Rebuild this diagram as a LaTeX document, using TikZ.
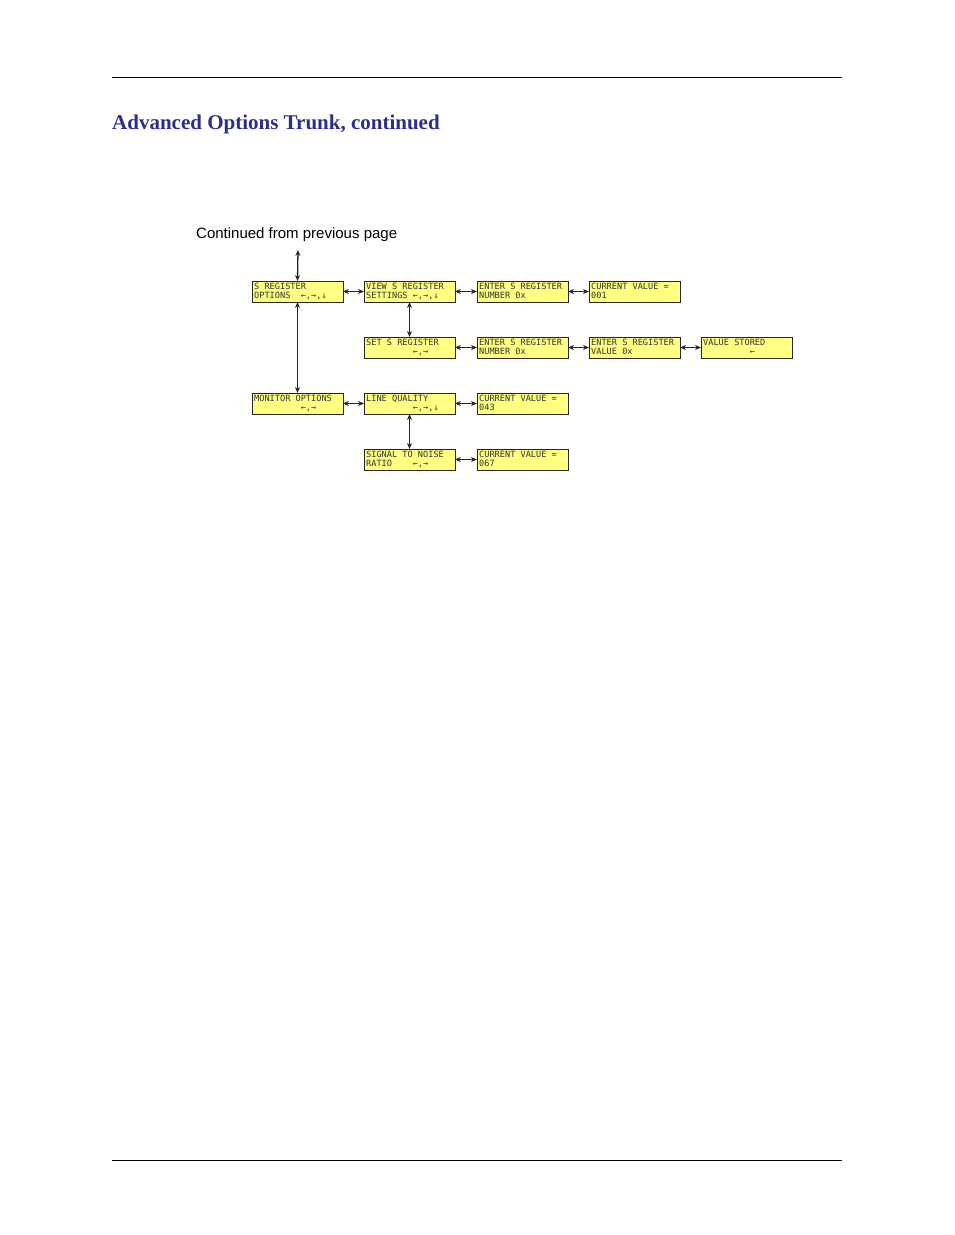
\documentclass[tikz,border=0pt]{standalone}
\usepackage{fontspec}
\setmainfont{Liberation Serif}
\setsansfont{Liberation Sans}
\setmonofont{DejaVu Sans Mono}
\usetikzlibrary{arrows.meta}
\definecolor{lcd}{HTML}{FFFF80}
\definecolor{ttl}{HTML}{2B2E8C}
\tikzset{
  lcdbox/.style={draw=black!85, fill=lcd, line width=0.9pt, minimum width=91pt, minimum height=21pt, inner sep=0pt, outer sep=0pt},
  lcdtxt/.style={anchor=north west, inner sep=0pt, align=left, font=\ttfamily\fontsize{8.6}{9}\selectfont, text=black!80},
  conn/.style={{Stealth[length=6pt,width=5pt]}-{Stealth[length=6pt,width=5pt]}, line width=1.3pt, black!85},
}
\newcommand{\lcd}[4]{%
  \node[lcdbox] (#1) at (#2) {};
  \node[lcdtxt] (#1t) at ([xshift=2pt,yshift=-2pt]#1.north west) {#3\\#4};
}
\begin{document}
\begin{tikzpicture}[x=1pt,y=-1pt]
\useasboundingbox (0,0) rectangle (954,1235);
\draw[line width=0.6pt] (112,77) -- (842,77);
\draw[line width=0.6pt] (112,1160) -- (842,1160);
\node[anchor=base west, inner sep=0pt, text=ttl, font=\bfseries\fontsize{21}{24}\selectfont] (title) at (112,129) {Advanced Options Trunk, continued};
\node[anchor=base west, inner sep=0pt, font=\sffamily\fontsize{15}{18}\selectfont] (cont) at (196,238) {Continued from previous page};
\coordinate (top) at (298,250);
\lcd{a}{297.5,291.5}{S~REGISTER}{OPTIONS~~←,→,↓}
\lcd{b}{409.5,291.5}{VIEW~S~REGISTER}{SETTINGS~←,→,↓}
\lcd{c}{522.5,291.5}{ENTER~S~REGISTER}{NUMBER~0x}
\lcd{d}{634.5,291.5}{CURRENT~VALUE~=}{001}
\lcd{e}{409.5,347.5}{SET~S~REGISTER}{~~~~~~~~~←,→}
\lcd{f}{522.5,347.5}{ENTER~S~REGISTER}{NUMBER~0x}
\lcd{g}{634.5,347.5}{ENTER~S~REGISTER}{VALUE~0x}
\lcd{h}{746.5,347.5}{VALUE~STORED}{~~~~~~~~~←}
\lcd{i}{297.5,403.5}{MONITOR~OPTIONS}{~~~~~~~~~←,→}
\lcd{j}{409.5,403.5}{LINE~QUALITY}{~~~~~~~~~←,→,↓}
\lcd{k}{522.5,403.5}{CURRENT~VALUE~=}{043}
\lcd{l}{409.5,459.5}{SIGNAL~TO~NOISE}{RATIO~~~~←,→}
\lcd{m}{522.5,459.5}{CURRENT~VALUE~=}{067}
\draw[conn] (top) -- (a.north);
\draw[conn] (a.south) -- (i.north);
\draw[conn] (a.east) -- (b.west);
\draw[conn] (b.east) -- (c.west);
\draw[conn] (c.east) -- (d.west);
\draw[conn] (b.south) -- (e.north);
\draw[conn] (e.east) -- (f.west);
\draw[conn] (f.east) -- (g.west);
\draw[conn] (g.east) -- (h.west);
\draw[conn] (i.east) -- (j.west);
\draw[conn] (j.east) -- (k.west);
\draw[conn] (j.south) -- (l.north);
\draw[conn] (l.east) -- (m.west);
\end{tikzpicture}
\end{document}
